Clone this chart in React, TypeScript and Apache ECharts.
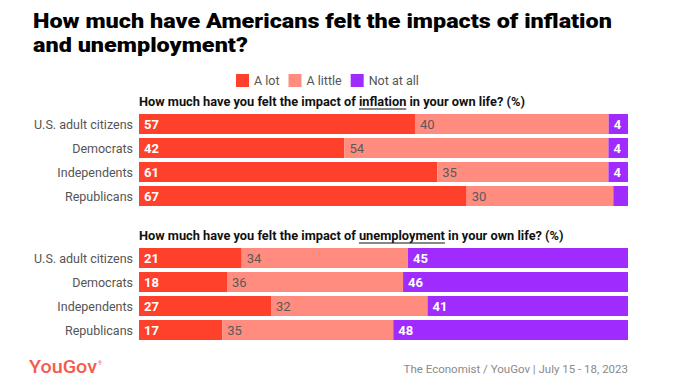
import React, { useEffect, useRef } from "react";
import * as echarts from "echarts";

const categories = ["U.S. adult citizens", "Democrats", "Independents", "Republicans"];
const seriesNames = ["A lot", "A little", "Not at all"];

const inflationALot = [57, 42, 61, 67];
const inflationALittle = [40, 54, 35, 30];
const inflationNotAtAll = [4, 4, 4, 3];

const unemploymentALot = [21, 18, 27, 17];
const unemploymentALittle = [34, 36, 32, 35];
const unemploymentNotAtAll = [45, 46, 41, 48];

const titleLines = ["How much have Americans felt the impacts of inflation", "and unemployment?"];
const subPrefix = "How much have you felt the impact of ";
const subSuffix = " in your own life? (%)";
const subjects = ["inflation", "unemployment"];
const sourceText = "The Economist / YouGov | July 15 - 18, 2023";

const COLORS = ["#FF412C", "#FF8C7E", "#A02BFF"];
const FONT = "Roboto, 'Noto Sans', sans-serif";

function measure(text: string, font: string): number {
  const ctx = document.createElement("canvas").getContext("2d");
  if (!ctx) return text.length * 6;
  ctx.font = font;
  return ctx.measureText(text).width;
}

export default function App() {
  const ref = useRef<HTMLDivElement>(null);
  useEffect(() => {
    if (!ref.current) return;
    const chart = echarts.init(ref.current, null, { renderer: "svg" });

    const groups = [
      [inflationALot, inflationALittle, inflationNotAtAll],
      [unemploymentALot, unemploymentALittle, unemploymentNotAtAll],
    ];

    const gridLeft = 139;
    const gridRight = 47;
    const gridTops = [112, 246];
    const gridH = 96;

    const series: any[] = [];
    groups.forEach((rows, g) => {
      const totals = categories.map((_, i) => rows.reduce((s, r) => s + r[i], 0));
      rows.forEach((raw, k) => {
        series.push({
          type: "bar",
          name: seriesNames[k],
          xAxisIndex: g,
          yAxisIndex: g,
          stack: "s" + g,
          barWidth: 20,
          itemStyle: { color: COLORS[k] },
          label: {
            show: true,
            position: "insideLeft",
            distance: 5,
            fontFamily: FONT,
            fontSize: 13,
            fontWeight: k === 1 ? "normal" : "bold",
            color: k === 1 ? "#5a5a5a" : "#ffffff",
          },
          data: raw.map((v, i) => ({
            value: (v * 100) / totals[i],
            label: { show: v >= 4, formatter: String(v) },
          })),
        });
      });
    });

    const titleFont = `900 20px Roboto`;
    const titleScale = 579 / measure(titleLines[0], titleFont);
    const logoFont = `500 18px Roboto`;
    const logoScale = 68 / measure("YouGov", logoFont);

    const subFont = `bold 12.8px Roboto`;
    const prefixW = measure(subPrefix, subFont);
    const graphics: any[] = [
      {
        type: "text",
        x: 33,
        y: 9,
        scaleX: titleScale,
        style: {
          text: titleLines.join("\n"),
          font: titleFont,
          fill: "#000000",
          lineHeight: 24,
          align: "left",
          verticalAlign: "top",
        },
      },
      {
        type: "text",
        x: 29,
        y: 358,
        scaleX: logoScale,
        style: {
          text: "YouGov",
          font: logoFont,
          fill: "#F55B4C",
          align: "left",
          verticalAlign: "top",
        },
      },
      {
        type: "text",
        x: 98,
        y: 360,
        style: {
          text: "®",
          font: `5px ${FONT}`,
          fill: "#F55B4C",
          align: "left",
          verticalAlign: "top",
        },
      },
      {
        type: "text",
        right: 47,
        top: 363,
        style: {
          text: sourceText,
          font: `11.5px ${FONT}`,
          fill: "#8a8a8a",
        },
      },
    ];
    subjects.forEach((subj, g) => {
      const y = gridTops[g] - 17;
      graphics.push({
        type: "text",
        left: gridLeft,
        top: y,
        style: {
          text: subPrefix + subj + subSuffix,
          font: subFont,
          fill: "#111111",
        },
      });
      const w = measure(subj, subFont);
      graphics.push({
        type: "line",
        shape: { x1: gridLeft + prefixW, y1: y + 14, x2: gridLeft + prefixW + w, y2: y + 14 },
        style: { stroke: "#111111", lineWidth: 1 },
      });
    });

    chart.setOption({
      animation: false,
      legend: {
        data: seriesNames,
        left: 231,
        top: 69,
        icon: "rect",
        itemWidth: 13,
        itemHeight: 13,
        itemGap: 9,
        textStyle: { fontFamily: FONT, fontSize: 12.5, color: "#555555" },
        selectedMode: false,
      },
      grid: gridTops.map((t) => ({ left: gridLeft, right: gridRight, top: t, height: gridH })),
      xAxis: [0, 1].map((g) => ({
        type: "value",
        gridIndex: g,
        min: 0,
        max: 100,
        show: false,
      })),
      yAxis: [0, 1].map((g) => ({
        type: "category",
        gridIndex: g,
        data: categories,
        inverse: true,
        axisLine: { show: false },
        axisTick: { show: false },
        axisLabel: { fontFamily: FONT, fontSize: 12.5, color: "#555555", margin: 6 },
      })),
      series,
      graphic: graphics,
    });

    return () => chart.dispose();
  }, []);
  return <div ref={ref} style={{ position: "absolute", left: 0, top: 0, width: 675, height: 387 }} />;
}
